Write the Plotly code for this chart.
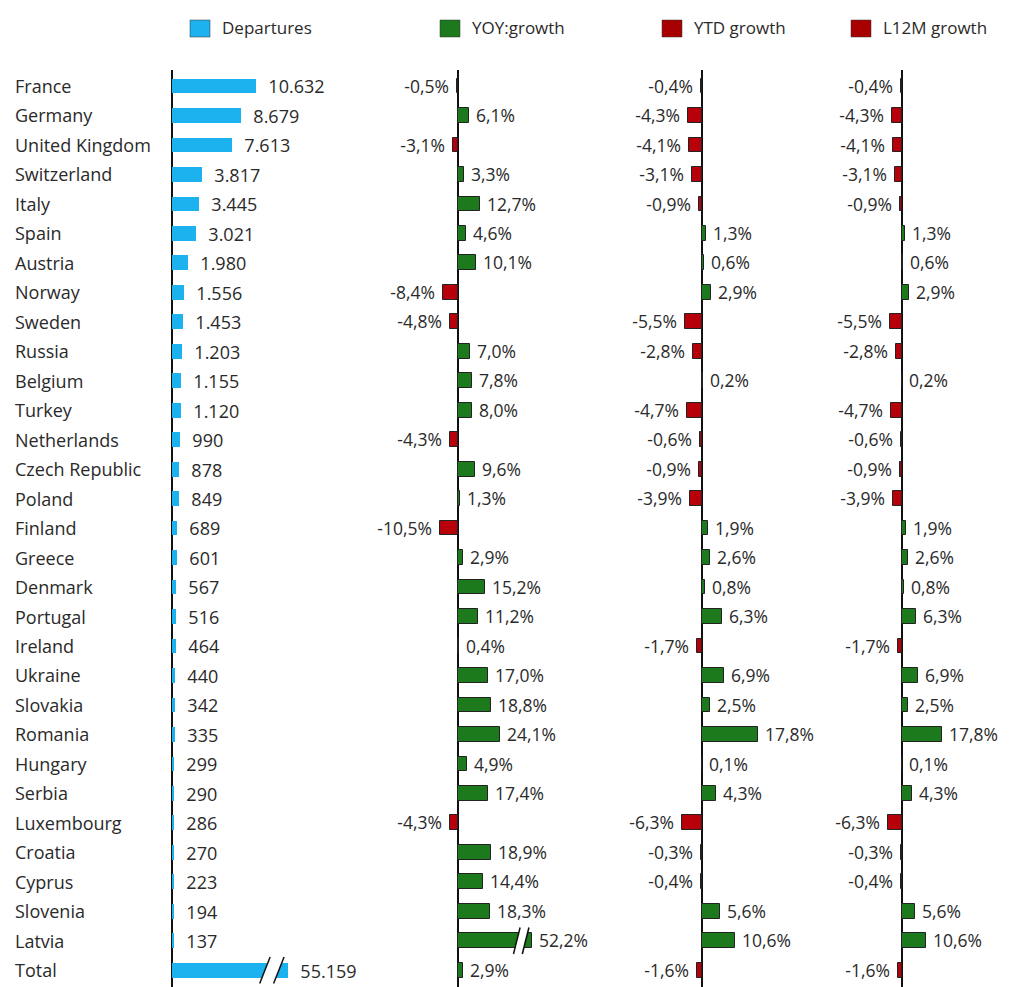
import plotly.graph_objects as go

countries = ["France", "Germany", "United Kingdom", "Switzerland", "Italy", "Spain", "Austria",
             "Norway", "Sweden", "Russia", "Belgium", "Turkey", "Netherlands", "Czech Republic",
             "Poland", "Finland", "Greece", "Denmark", "Portugal", "Ireland", "Ukraine", "Slovakia",
             "Romania", "Hungary", "Serbia", "Luxembourg", "Croatia", "Cyprus", "Slovenia", "Latvia",
             "Total"]
departures = [10632, 8679, 7613, 3817, 3445, 3021, 1980, 1556, 1453, 1203, 1155, 1120, 990, 878,
              849, 689, 601, 567, 516, 464, 440, 342, 335, 299, 290, 286, 270, 223, 194, 137, 55159]
yoy_growth = [-0.5, 6.1, -3.1, 3.3, 12.7, 4.6, 10.1, -8.4, -4.8, 7.0, 7.8, 8.0, -4.3, 9.6, 1.3,
              -10.5, 2.9, 15.2, 11.2, 0.4, 17.0, 18.8, 24.1, 4.9, 17.4, -4.3, 18.9, 14.4, 18.3,
              52.2, 2.9]
ytd_growth = [-0.4, -4.3, -4.1, -3.1, -0.9, 1.3, 0.6, 2.9, -5.5, -2.8, 0.2, -4.7, -0.6, -0.9, -3.9,
              1.9, 2.6, 0.8, 6.3, -1.7, 6.9, 2.5, 17.8, 0.1, 4.3, -6.3, -0.3, -0.4, 5.6, 10.6, -1.6]
l12m_growth = [-0.4, -4.3, -4.1, -3.1, -0.9, 1.3, 0.6, 2.9, -5.5, -2.8, 0.2, -4.7, -0.6, -0.9, -3.9,
               1.9, 2.6, 0.8, 6.3, -1.7, 6.9, 2.5, 17.8, 0.1, 4.3, -6.3, -0.3, -0.4, 5.6, 10.6, -1.6]
legend_labels = ["Departures", "YOY:growth", "YTD growth", "L12M growth"]

# display caps for broken bars (axis breaks)
DEP_CAP = 14700
YOY_CAP = 42

OFF = 8                     # page body margin
W, H = 1009 - OFF, 987 - OFF
BLUE = "#1CB1EF"
GREEN = "#1C7A1C"
RED = "#B8000A"
TXT = "#2a2a2a"
FONT = "Open Sans"

def px(x):
    return (x - OFF) / W

def py(y):
    return 1 - (y - OFF) / H

def fmt_dep(v):
    return f"{v:,}".replace(",", ".")

def fmt_pct(v):
    return f"{v:.1f}%".replace(".", ",")

idx = list(range(len(countries)))
fig = go.Figure()

# Departures panel
dep_disp = [min(v, DEP_CAP) for v in departures]
fig.add_trace(go.Bar(
    x=dep_disp, y=idx, orientation="h", xaxis="x", yaxis="y",
    marker=dict(color=BLUE, line=dict(width=0)), width=0.5,
    text=["\u00a0\u00a0" + fmt_dep(v) for v in departures], textposition="outside",
    constraintext="none", cliponaxis=False,
    textfont=dict(family=FONT, size=18, color=TXT), showlegend=False, hoverinfo="skip"))

def growth_trace(vals, axis, cap=None):
    disp = [min(v, cap) if cap else v for v in vals]
    colors = [GREEN if v >= 0 else RED for v in vals]
    texts = [("\u00a0" + fmt_pct(v)) if v >= 0 else (fmt_pct(v) + "\u00a0") for v in vals]
    return go.Bar(
        x=disp, y=idx, orientation="h", xaxis=axis, yaxis="y",
        marker=dict(color=colors, line=dict(width=1, color="#222")), width=0.5,
        text=texts, textposition="outside", constraintext="none", cliponaxis=False,
        textfont=dict(family=FONT, size=17.5, color=TXT), showlegend=False, hoverinfo="skip")

fig.add_trace(growth_trace(yoy_growth, "x2", YOY_CAP))
fig.add_trace(growth_trace(ytd_growth, "x3"))
fig.add_trace(growth_trace(l12m_growth, "x4"))

axcommon = dict(showgrid=False, showticklabels=False, zeroline=True, zerolinecolor="#111",
                zerolinewidth=1.5, showline=False, ticks="", fixedrange=True, anchor="y")

fig.update_layout(
    width=W, height=H, margin=dict(l=0, r=0, t=0, b=0),
    paper_bgcolor="white", plot_bgcolor="white", bargap=0,
    xaxis=dict(domain=[px(160), px(360)], range=[-12 / 7.9 * 1000, 188 / 7.9 * 1000], **axcommon),
    xaxis2=dict(domain=[px(370), px(600)], range=[-88 / 1.75, 142 / 1.75], **axcommon),
    xaxis3=dict(domain=[px(605), px(820)], range=[-97 / 3.15, 118 / 3.15], **axcommon),
    xaxis4=dict(domain=[px(825), px(1009)], range=[-77 / 2.25, 107 / 2.25], **axcommon),
    yaxis=dict(domain=[0, py(70)], range=[30.57, -0.543], visible=False, fixedrange=True),
)

# country names
for i, c in enumerate(countries):
    fig.add_annotation(x=px(13), xref="paper", y=i, yref="y", text=c, showarrow=False,
                       xanchor="left", yanchor="middle",
                       font=dict(family=FONT, size=18, color=TXT))

# break marks for capped bars
def add_break(axis, row, cap):
    c = 0.86 * cap
    g = 0.12 * cap
    d = 0.045 * cap
    yb, yt = row + 0.45, row - 0.45
    xl, xr = c - g / 2, c + g / 2
    fig.add_shape(type="path", xref=axis, yref="y",
                  path=f"M {xl - d},{yb} L {xr - d},{yb} L {xr + d},{yt} L {xl + d},{yt} Z",
                  fillcolor="white", line=dict(width=0))
    for xx in (xl, xr):
        fig.add_shape(type="line", xref=axis, yref="y", x0=xx - d, y0=yb, x1=xx + d, y1=yt,
                      line=dict(color="#111", width=1.5))

for i, v in enumerate(departures):
    if v > DEP_CAP:
        add_break("x", i, DEP_CAP)
for i, v in enumerate(yoy_growth):
    if v > YOY_CAP:
        add_break("x2", i, YOY_CAP)

# legend
leg_x = [190, 440, 662, 851]
leg_col = [BLUE, GREEN, "#A80000", "#A80000"]
for lx, lab, col in zip(leg_x, legend_labels, leg_col):
    fig.add_shape(type="rect", xref="paper", yref="paper",
                  x0=px(lx), x1=px(lx + 20), y0=py(37), y1=py(20),
                  fillcolor=col, line=dict(color="#333", width=0.5))
    fig.add_annotation(x=px(lx + 30), xref="paper", y=py(28), yref="paper", text=lab,
                       showarrow=False, xanchor="left", yanchor="middle",
                       font=dict(family=FONT, size=17, color=TXT))

fig.write_html("out.html")
